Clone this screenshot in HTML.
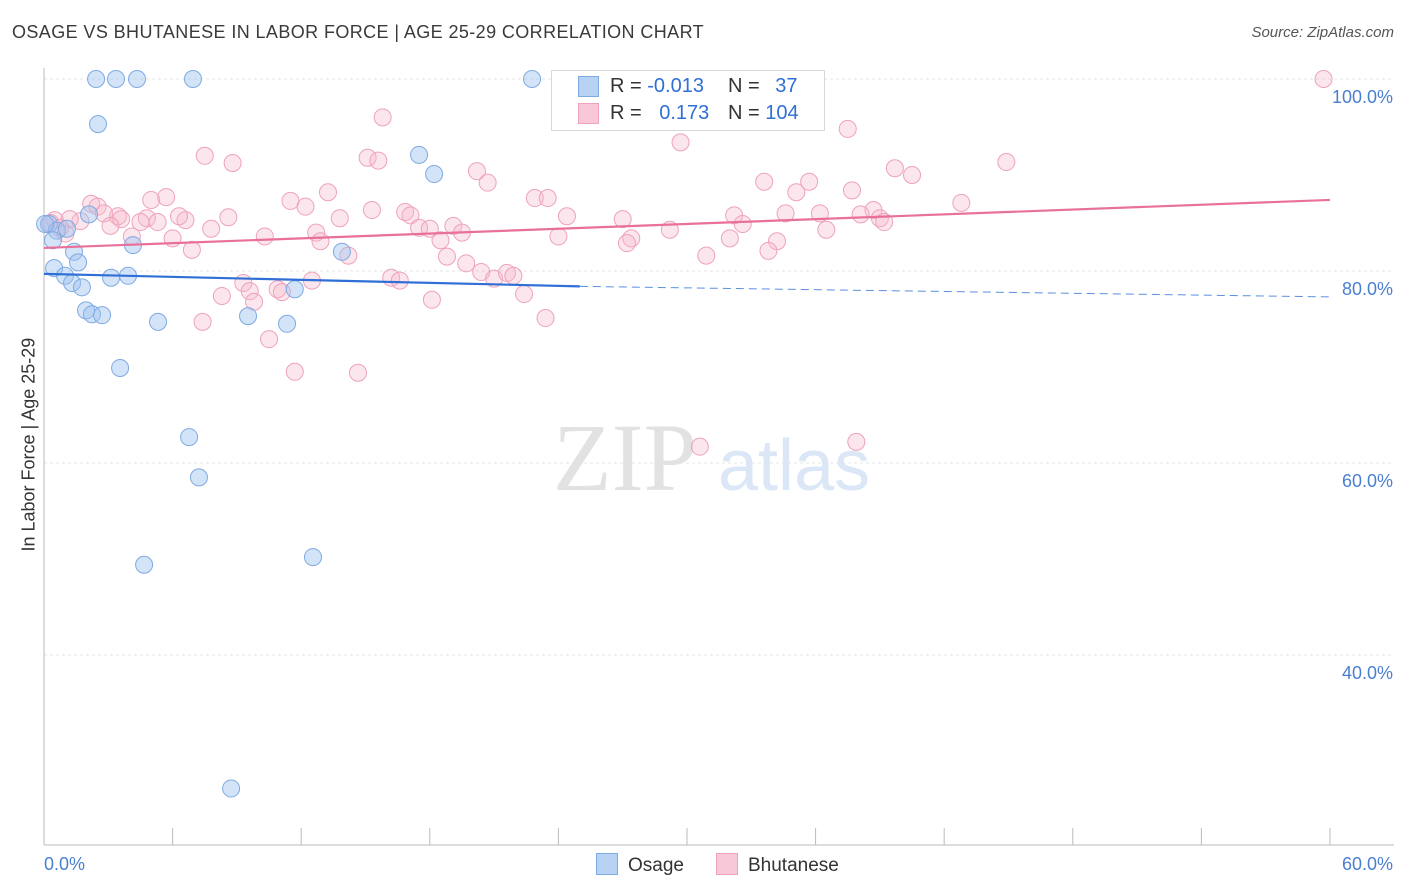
<!DOCTYPE html>
<html><head><meta charset="utf-8"><style>
body{margin:0;background:#fff;font-family:"Liberation Sans",sans-serif}
#wrap{position:relative;width:1406px;height:892px;overflow:hidden}
.t{position:absolute;white-space:nowrap}
</style></head><body>
<div id="wrap">
<div class="t" style="left:12px;top:22px;font-size:18px;color:#3a3a3a;letter-spacing:0.4px">OSAGE VS BHUTANESE IN LABOR FORCE | AGE 25-29 CORRELATION CHART</div>
<div class="t" style="right:12px;top:24px;font-size:15px;color:#555;font-style:italic">Source: ZipAtlas.com</div>
<div class="t" style="left:-66px;top:446px;font-size:18px;color:#333;transform:rotate(-90deg);width:190px;text-align:center">In Labor Force | Age 25-29</div>
<svg id="svg" width="1406" height="892" style="position:absolute;left:0;top:0"></svg>
</div>
<script>
const osageX=[2.43,3.36,4.34,6.95,22.77,2.52,17.5,18.2,2.1,0.23,0.6,1.07,0.42,4.15,13.9,1.4,1.59,0.47,0.98,3.13,3.92,1.31,1.77,11.7,1.96,2.24,2.71,5.32,9.52,11.34,3.55,6.77,7.23,4.67,12.55,8.73,0.05];
const osageY=[100,100,100,100,100,95.3,92.1,90.1,85.9,84.9,84.2,84.4,83.2,82.7,82.0,82.0,80.9,80.3,79.5,79.3,79.5,78.75,78.3,78.1,75.9,75.5,75.4,74.7,75.3,74.5,69.9,62.7,58.5,49.4,50.2,26.1,84.9];
const bhutX=[59.7,15.8,27.7,37.5,29.7,7.5,8.8,15.1,15.6,20.2,44.9,39.7,40.5,20.7,33.6,35.7,35.1,37.7,13.25,5.0,5.7,2.2,2.5,11.5,12.2,15.3,16.85,17.1,22.9,23.5,42.8,38.7,38.1,34.6,36.2,32.2,24.4,27.0,8.6,6.6,6.3,3.45,3.6,4.8,4.5,2.8,1.7,1.2,0.5,0.3,0.75,1.0,3.1,5.3,13.8,17.5,18.0,19.1,19.5,7.8,10.3,12.7,12.9,4.1,6.0,6.9,18.5,24.0,27.4,27.2,29.2,32.0,32.6,34.2,33.8,36.5,39.0,39.2,14.2,18.8,19.7,20.4,21.0,21.6,21.9,30.9,16.2,16.6,9.3,9.6,10.9,11.1,12.5,8.3,9.8,18.1,22.4,23.4,7.4,10.5,11.7,14.65,30.6,37.9];
const bhutY=[100,96.0,96.1,94.8,93.4,92.0,91.25,91.8,91.5,90.4,91.35,90.7,90.0,89.2,89.3,89.3,88.2,88.4,88.2,87.4,87.7,87.0,86.7,87.3,86.7,86.35,86.15,85.8,87.6,87.6,87.1,86.35,85.9,86.0,86.0,85.8,85.7,85.4,85.6,85.3,85.7,85.7,85.4,85.5,85.1,86.0,85.2,85.4,85.3,85.0,84.5,83.9,84.7,85.1,85.5,84.5,84.4,84.7,84.0,84.4,83.6,84.0,83.1,83.6,83.4,82.2,83.2,83.6,83.4,82.9,84.3,83.4,84.9,83.1,82.1,84.3,85.5,85.1,81.6,81.5,80.8,79.9,79.2,79.8,79.5,81.6,79.3,79.0,78.75,77.9,78.1,77.8,79.0,77.4,76.8,77.0,77.6,75.1,74.7,72.9,69.5,69.4,61.7,62.2];
const osageTrendX=[0,25,60];
const osageTrendY=[79.7,78.4,77.3];
const bhutTrendX=[0,60];
const bhutTrendY=[82.4,87.4];
const yTicks=[100,80,60,40];
const yTickLabels=["100.0%","80.0%","60.0%","40.0%"];

const NS="http://www.w3.org/2000/svg";
const svg=document.getElementById('svg');
const X=v=>44+v*21.433;
const Y=v=>79+(100-v)*9.6;
function mk(tag,at){const e=document.createElementNS(NS,tag);for(const k in at)e.setAttribute(k,at[k]);svg.appendChild(e);return e;}
yTicks.forEach((t,i)=>{
 const g=mk('line',{x1:44,x2:1394,y1:Y(t),y2:Y(t),stroke:'#e4e4e4','stroke-dasharray':'3,3'});
 
 
 const l=mk('text',{x:1393,y:Y(t)+24,'text-anchor':'end','font-size':18,fill:'#4a7fd0','font-family':'Liberation Sans'});
 l.textContent=yTickLabels[i];
 
 
});
const ax=mk('line',{x1:44,x2:44,y1:68,y2:845,stroke:'#bbb'});


const bx=mk('line',{x1:44,x2:1394,y1:845,y2:845,stroke:'#bbb'});


for(let i=0;i<=10;i++){const tk=mk('line',{x1:X(i*6),x2:X(i*6),y1:828,y2:845,stroke:'#bbb'});
 
 }
[[0,'0.0%','start',44],[60,'60.0%','end',1393]].forEach(a=>{const l=mk('text',{x:a[3],y:870,'text-anchor':a[2],'font-size':18,fill:'#4a7fd0','font-family':'Liberation Sans'});l.textContent=a[1];
 
 });
const w1=mk('text',{x:553,y:490,'font-size':96,fill:'#e2e2e2','font-family':'Liberation Serif'});w1.textContent='ZIP';


const w2=mk('text',{x:718,y:490,'font-size':72,fill:'#dbe6f6','font-family':'Liberation Sans'});w2.textContent='atlas';


bhutX.forEach((x,i)=>{const c=mk('circle',{cx:X(x),cy:Y(bhutY[i]),r:8.5,fill:'rgba(246,182,203,0.35)',stroke:'#eea2bb','stroke-width':1});
 
 });
osageX.forEach((x,i)=>{const c=mk('circle',{cx:X(x),cy:Y(osageY[i]),r:8.5,fill:'rgba(160,196,240,0.45)',stroke:'#7eaae2','stroke-width':1});
 
 });
const pl=mk('line',{x1:X(bhutTrendX[0]),y1:Y(bhutTrendY[0]),x2:X(bhutTrendX[1]),y2:Y(bhutTrendY[1]),stroke:'#e8709a','stroke-width':2.2});


const bl=mk('line',{x1:X(osageTrendX[0]),y1:Y(osageTrendY[0]),x2:X(osageTrendX[1]),y2:Y(osageTrendY[1]),stroke:'#2f6fd6','stroke-width':2.2});


const bd=mk('line',{x1:X(osageTrendX[1]),y1:Y(osageTrendY[1]),x2:X(osageTrendX[2]),y2:Y(osageTrendY[2]),stroke:'#5a8fe0','stroke-width':1,'stroke-dasharray':'8,5'});


</script>
<div class="t" style="left:551px;top:70px;width:272px;height:59px;border:1px solid #d8d8d8;background:#fff;font-size:20px;color:#333">
 <div style="position:absolute;left:26px;top:5px;width:19px;height:19px;background:#b8d2f4;border:1px solid #7eaae2"></div>
 <div style="position:absolute;left:58px;top:4px">R = <span style="color:#2f6fd6">-0.013</span></div>
 <div style="position:absolute;left:176px;top:4px">N = <span style="color:#2f6fd6;margin-left:10px">37</span></div>
 <div style="position:absolute;left:26px;top:32px;width:19px;height:19px;background:#f8c8d8;border:1px solid #eea2bb"></div>
 <div style="position:absolute;left:58px;top:31px">R = <span style="color:#2f6fd6;margin-left:12px">0.173</span></div>
 <div style="position:absolute;left:176px;top:31px">N = <span style="color:#2f6fd6">104</span></div>
</div>
<div class="t" style="left:596px;top:853px;font-size:19px;color:#333"><span style="display:inline-block;width:20px;height:20px;background:#b8d2f4;border:1px solid #7eaae2;vertical-align:-4px;margin-right:10px"></span>Osage</div>
<div class="t" style="left:716px;top:853px;font-size:19px;color:#333"><span style="display:inline-block;width:20px;height:20px;background:#f8c8d8;border:1px solid #eea2bb;vertical-align:-4px;margin-right:10px"></span>Bhutanese</div>
</body></html>
